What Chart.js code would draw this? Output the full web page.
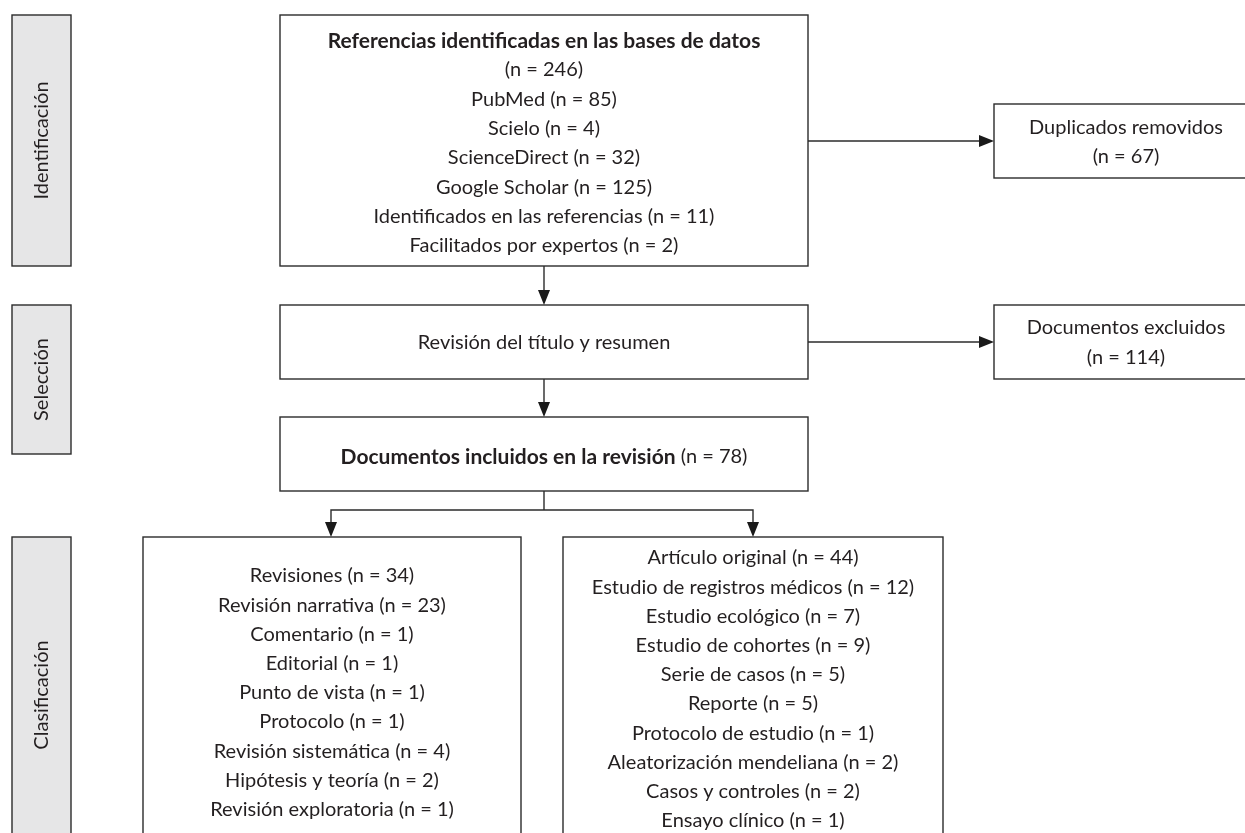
<!DOCTYPE html>
<html><head><meta charset="utf-8">
<script src="https://cdn.jsdelivr.net/npm/chart.js@4/dist/chart.umd.min.js"></script>
<style>html,body{margin:0;padding:0;background:#fff}#wrap{width:1245px;height:833px;position:relative}</style>
</head><body><div id="wrap"><canvas id="c"></canvas></div>
<script>
// ---- data ----
const phases = ['Identificación', 'Selección', 'Clasificación'];
const identifiedTitle = 'Referencias identificadas en las bases de datos';
const totalIdentified = 246;
const sources = ['PubMed', 'Scielo', 'ScienceDirect', 'Google Scholar', 'Identificados en las referencias', 'Facilitados por expertos'];
const sourceCounts = [85, 4, 32, 125, 11, 2];
const duplicatesLabel = 'Duplicados removidos';
const duplicatesRemoved = 67;
const screeningLabel = 'Revisión del título y resumen';
const excludedLabel = 'Documentos excluidos';
const excluded = 114;
const includedLabel = 'Documentos incluidos en la revisión';
const included = 78;
const reviewTypes = ['Revisiones', 'Revisión narrativa', 'Comentario', 'Editorial', 'Punto de vista', 'Protocolo', 'Revisión sistemática', 'Hipótesis y teoría', 'Revisión exploratoria'];
const reviewCounts = [34, 23, 1, 1, 1, 1, 4, 2, 1];
const originalTypes = ['Artículo original', 'Estudio de registros médicos', 'Estudio ecológico', 'Estudio de cohortes', 'Serie de casos', 'Reporte', 'Protocolo de estudio', 'Aleatorización mendeliana', 'Casos y controles', 'Ensayo clínico'];
const originalCounts = [44, 12, 7, 9, 5, 5, 1, 2, 2, 1];

// ---- layout / style ----
const FONT = 'Lato';
const FS = 20;
const FSB = 21;
const INK = '#231f20';
const LINE = '#2b2b2b';
const GRAY = '#e6e6e7';
const n = v => '(n = ' + v + ')';

const flowPlugin = {
  id: 'flow',
  afterDraw(chart) {
    const ctx = chart.ctx, xs = chart.scales.x, ys = chart.scales.y;
    const X = v => xs.getPixelForValue(v), Y = v => ys.getPixelForValue(v);
    ctx.save();
    ctx.lineWidth = 1.4;
    ctx.strokeStyle = LINE;
    const rect = (x0, y0, x1, y1, fill) => {
      const a = X(x0), b = Y(y0), w = X(x1) - a, h = Y(y1) - b;
      if (fill) { ctx.fillStyle = fill; ctx.fillRect(a, b, w, h); }
      ctx.strokeRect(a, b, w, h);
    };
    const line = (pts) => {
      ctx.beginPath();
      pts.forEach((p, i) => i ? ctx.lineTo(X(p[0]), Y(p[1])) : ctx.moveTo(X(p[0]), Y(p[1])));
      ctx.stroke();
    };
    const head = (x, y, dir) => {
      const L = 15, Hw = 6;
      const tx = X(x), ty = Y(y);
      ctx.fillStyle = '#1a1a1a';
      ctx.beginPath();
      if (dir === 'down') { ctx.moveTo(tx, ty); ctx.lineTo(tx - Hw, ty - L); ctx.lineTo(tx + Hw, ty - L); }
      else { ctx.moveTo(tx, ty); ctx.lineTo(tx - L, ty - Hw); ctx.lineTo(tx - L, ty + Hw); }
      ctx.closePath(); ctx.fill();
    };
    const text = (s, x, y, bold) => {
      ctx.fillStyle = INK;
      ctx.font = bold ? ('bold ' + FSB + 'px ' + FONT) : (FS + 'px ' + FONT);
      ctx.textAlign = 'center'; ctx.textBaseline = 'middle';
      ctx.fillText(s, X(x), Y(y));
    };
    const vtext = (s, x, y) => {
      ctx.save();
      ctx.translate(X(x), Y(y)); ctx.rotate(-Math.PI / 2);
      ctx.fillStyle = INK; ctx.font = FS + 'px ' + FONT;
      ctx.textAlign = 'center'; ctx.textBaseline = 'middle';
      ctx.fillText(s, 0, 0);
      ctx.restore();
    };

    // phase side boxes
    const sideY = [[15, 266], [305, 454], [537, 860]];
    phases.forEach((p, i) => {
      rect(12, sideY[i][0], 71, sideY[i][1], GRAY);
      vtext(p, 42, i === 2 ? 695 : (sideY[i][0] + sideY[i][1]) / 2);
    });

    // identification box
    rect(280, 15, 808, 266);
    text(identifiedTitle, 544, 41, true);
    text(n(totalIdentified), 544, 70);
    sources.forEach((s, i) => text(s + ' ' + n(sourceCounts[i]), 544, 99.5 + i * 29.2));

    // duplicates
    rect(994, 104, 1262, 178);
    text(duplicatesLabel, 1126, 128);
    text(n(duplicatesRemoved), 1126, 157);
    line([[808, 141], [980, 141]]); head(994, 141, 'right');

    // screening
    line([[544, 266], [544, 292]]); head(544, 305, 'down');
    rect(280, 305, 808, 379);
    text(screeningLabel, 544, 343);
    rect(994, 305, 1262, 379);
    text(excludedLabel, 1126, 328);
    text(n(excluded), 1126, 358);
    line([[808, 342], [980, 342]]); head(994, 342, 'right');

    // included
    line([[544, 379], [544, 404]]); head(544, 417, 'down');
    rect(280, 417, 808, 491);
    {
      ctx.font = 'bold ' + FSB + 'px ' + FONT;
      const b = includedLabel;
      const wb = ctx.measureText(b).width;
      ctx.font = FS + 'px ' + FONT;
      const r = ' ' + n(included);
      const wr = ctx.measureText(r).width;
      const start = X(544) - (wb + wr) / 2;
      ctx.fillStyle = INK; ctx.textAlign = 'left'; ctx.textBaseline = 'middle';
      ctx.font = 'bold ' + FSB + 'px ' + FONT;
      ctx.fillText(b, start, Y(457));
      ctx.font = FS + 'px ' + FONT;
      ctx.fillText(r, start + wb, Y(457));
    }

    // branches
    line([[544, 491], [544, 510]]);
    line([[331, 524], [331, 510], [753, 510], [753, 524]]);
    head(331, 537, 'down'); head(753, 537, 'down');

    // classification boxes
    rect(143, 537, 521, 860);
    reviewTypes.forEach((t, i) => text(t + ' ' + n(reviewCounts[i]), 332, 576 + i * 29.2));
    rect(563, 537, 943, 860);
    originalTypes.forEach((t, i) => text(t + ' ' + n(originalCounts[i]), 753, 558 + i * 29.2));
    ctx.restore();
  }
};

new Chart(document.getElementById('c'), {
  type: 'scatter',
  data: { datasets: [{ data: [] }] },
  options: {
    responsive: true, maintainAspectRatio: false, animation: false,
    layout: { padding: 0 },
    plugins: { legend: { display: false }, tooltip: { enabled: false } },
    scales: {
      x: { type: 'linear', min: 0, max: 1245, display: false },
      y: { type: 'linear', min: 0, max: 833, reverse: true, display: false }
    }
  },
  plugins: [flowPlugin]
});
</script></body></html>
